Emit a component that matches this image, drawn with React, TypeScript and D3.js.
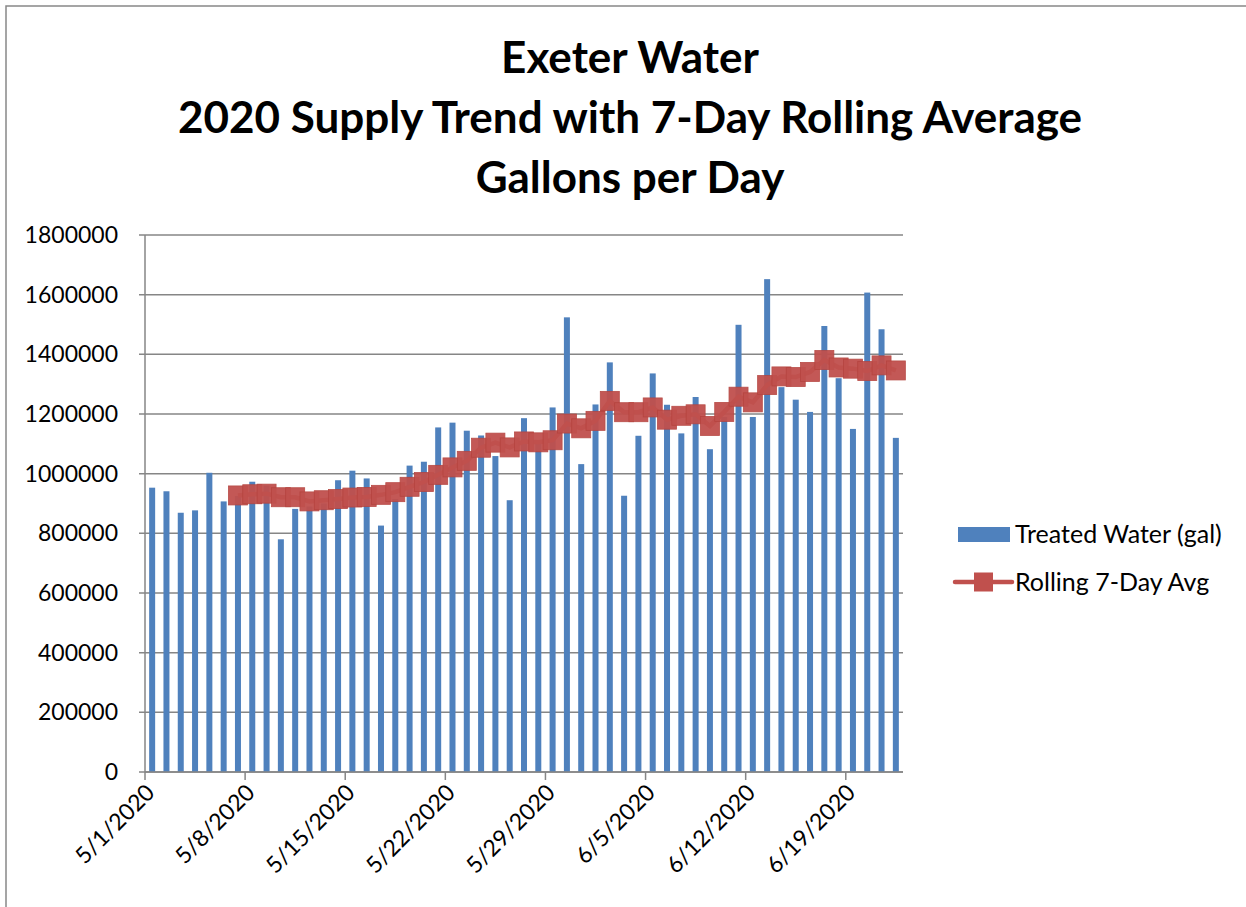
import React from "react"
import * as d3 from "d3"

// daily treated water, 5/1/2020 .. 6/22/2020
const startDate = "2020-05-01"
const treated = [
  953000, 941000, 869000, 877000, 1003000, 907000, 925000, 973000, 960000,
  780000, 882000, 890000, 900000, 978000, 1010000, 984000, 826000, 915000,
  1027000, 1040000, 1155000, 1171000, 1144000, 1128000, 1059000, 911000,
  1186000, 1100000, 1222000, 1524000, 1032000, 1232000, 1373000, 926000,
  1127000, 1336000, 1231000, 1135000, 1257000, 1082000, 1190000, 1499000,
  1190000, 1652000, 1290000, 1248000, 1207000, 1495000, 1320000, 1150000,
  1607000, 1484000, 1120000,
]
// rolling 7-day average, first value on 5/7
const rolling = [
  null, null, null, null, null, null,
  927000, 931000, 933000, 921000, 921000, 907000, 911000, 915000, 920000,
  922000, 929000, 938000, 956000, 972000, 996000, 1021000, 1043000, 1087000,
  1104000, 1088000, 1108000, 1105000, 1112000, 1168000, 1152000, 1177000,
  1244000, 1206000, 1206000, 1222000, 1181000, 1194000, 1199000, 1160000,
  1207000, 1258000, 1239000, 1297000, 1326000, 1324000, 1341000, 1381000,
  1356000, 1352000, 1344000, 1363000, 1346000,
]
const yTicks = [0, 200000, 400000, 600000, 800000, 1000000, 1200000, 1400000, 1600000, 1800000]
const titleLines = ["Exeter Water", "2020 Supply Trend with 7-Day Rolling Average", "Gallons per Day"]
const legendLabels = ["Treated Water (gal)", "Rolling 7-Day Avg"]

const W = 1246, H = 907
const margin = { top: 235, right: 343, bottom: 135, left: 145 }
const font = "Lato, 'Open Sans', sans-serif"
const gridColor = "#868686"
const barColor = "#4F81BD"
const lineColor = "#C0504D"

export default function App() {
  const start = new Date(startDate + "T00:00:00Z")
  const dates = treated.map((_, i) => d3.utcDay.offset(start, i))
  const end = d3.utcDay.offset(start, treated.length)

  const x = d3.scaleUtc().domain([start, end]).range([margin.left, W - margin.right])
  const y = d3.scaleLinear().domain([0, 1800000]).range([H - margin.bottom, margin.top])
  const mid = (d: Date) => x(d3.utcHour.offset(d, 12))
  const fmt = d3.utcFormat("%-m/%-d/%Y")
  const xTicks = d3.utcDay.range(start, end, 7)

  const pts = dates
    .map((d, i) => ({ d, v: rolling[i] }))
    .filter(p => p.v != null) as { d: Date; v: number }[]
  const line = d3.line<{ d: Date; v: number }>().x(p => mid(p.d)).y(p => y(p.v))

  const x0 = margin.left, x1 = W - margin.right, yb = y(0)
  const barW = 6, mk = 19

  return (
    <div style={{ position: "fixed", left: 0, top: 0 }}>
      <svg width={W} height={H} style={{ display: "block", background: "#fff" }}>
        <rect x={6} y={6} width={W + 20} height={H + 20} fill="none" stroke="#888" strokeWidth={1.5} />

        {titleLines.map((t, i) => (
          <text key={t} x={630} y={73 + i * 60} textAnchor="middle" fontFamily={font}
            fontWeight="bold" fontSize={44} fill="#000">{t}</text>
        ))}

        {yTicks.map(t => (
          <g key={t}>
            <line x1={x0 - 6} x2={x1} y1={y(t)} y2={y(t)} stroke={gridColor} strokeWidth={1.5} />
            <text x={118} y={y(t) + 8} textAnchor="end" fontFamily={font} fontSize={23} fill="#000">{t}</text>
          </g>
        ))}
        <line x1={x0} x2={x0} y1={y(1800000)} y2={yb} stroke={gridColor} strokeWidth={1.5} />

        {dates.map((d, i) => (
          <rect key={i} x={mid(d) - barW / 2} y={y(treated[i])} width={barW}
            height={yb - y(treated[i])} fill={barColor} />
        ))}

        {xTicks.map(d => (
          <g key={+d}>
            <line x1={x(d)} x2={x(d)} y1={yb} y2={yb + 8} stroke={gridColor} strokeWidth={1.5} />
            <text transform={`translate(${x(d) + 11},${yb + 22}) rotate(-45)`} textAnchor="end"
              fontFamily={font} fontSize={23} fill="#000">{fmt(d)}</text>
          </g>
        ))}
        <line x1={x0} x2={x1} y1={yb} y2={yb} stroke={gridColor} strokeWidth={1.5} />

        <path d={line(pts) || ""} fill="none" stroke={lineColor} strokeWidth={4.5} />
        {pts.map((p, i) => (
          <rect key={i} x={mid(p.d) - mk / 2} y={y(p.v) - mk / 2} width={mk} height={mk}
            fill={lineColor} stroke="#B5443F" strokeWidth={0.8} opacity={0.95} />
        ))}

        <rect x={958} y={527} width={52} height={15} fill={barColor} />
        <text x={1015} y={543} fontFamily={font} fontSize={25} fill="#000">{legendLabels[0]}</text>
        <line x1={955} x2={1012} y1={582} y2={582} stroke={lineColor} strokeWidth={4.5} strokeLinecap="round" />
        <rect x={983.5 - mk / 2} y={582 - mk / 2} width={mk} height={mk} fill={lineColor} />
        <text x={1015} y={591} fontFamily={font} fontSize={25} fill="#000">{legendLabels[1]}</text>
      </svg>
    </div>
  )
}
